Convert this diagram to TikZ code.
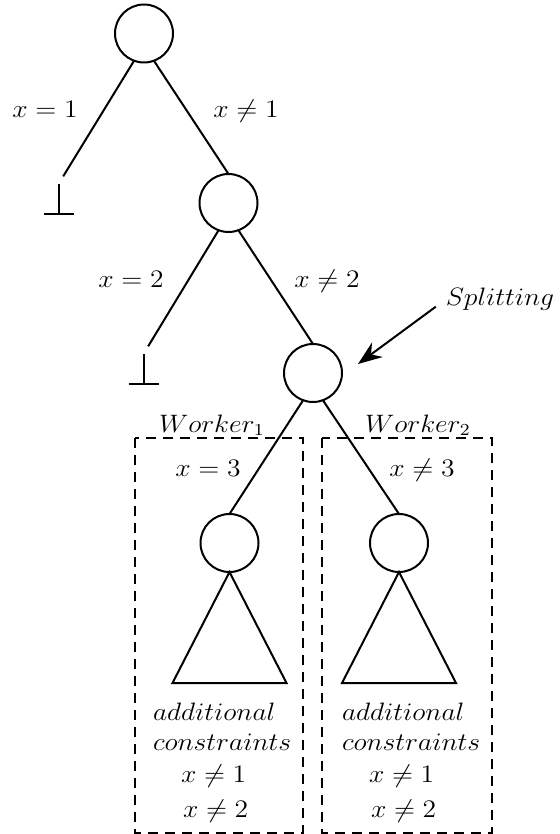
\documentclass[tikz,border=0pt]{standalone}
\usetikzlibrary{arrows.meta,calc}
\newcommand{\tx}[1]{\scalebox{1.15}[1.05]{$#1$}}
\begin{document}
\begin{tikzpicture}[x=0.5pt,y=-0.5pt,line width=1pt,
  font=\fontsize{12}{14.4}\selectfont,
  vert/.style={circle,draw,minimum size=29pt,inner sep=0pt,outer sep=0pt},
  botnode/.style={minimum width=15pt,minimum height=15pt,inner sep=0pt,outer sep=0pt},
  lbl/.style={anchor=base,inner sep=0pt},
  lblw/.style={anchor=base west,inner sep=0pt},
  box/.style={draw,dash pattern=on 5pt off 3.5pt},
  arr/.style={-{Stealth[length=12pt,width=9pt]}}]
\useasboundingbox (0,0) rectangle (560,834);
% vertices
\node[vert] (c1) at (144,33.5) {};
\node[vert] (c2) at (228.5,203) {};
\node[vert] (c3) at (313,373) {};
\node[vert] (c4) at (229.5,543) {};
\node[vert] (c5) at (399,543) {};
% bottom symbols
\node[botnode] (b1) at (58.5,199) {};
\node[botnode] (b2) at (143.5,369) {};
\foreach \b in {b1,b2}{
  \draw (\b.north) -- (\b.south);
  \draw (\b.south west) -- (\b.south east);
}
% edges
\draw[shorten >=4.5pt] (c1.250) -- (b1.north);
\draw (c1.290) -- (c2.north);
\draw[shorten >=4.5pt] (c2.250) -- (b2.north);
\draw (c2.290) -- (c3.north);
\draw (c3.250) -- (c4.north);
\draw (c3.290) -- (c5.north);
% subtrees
\draw (c4.south) -- ++(-57,111) -- ++(114,0) -- cycle;
\draw (c5.south) -- ++(-57,111) -- ++(114,0) -- cycle;
% worker boxes
\draw[box] (135,438) rectangle (303,833);
\draw[box] (322,438) rectangle (492,833);
% labels
\node[lbl] (l1) at (45,118) {\tx{x=1}};
\node[lbl] (l2) at (246,118) {\tx{x\neq1}};
\node[lbl] (l3) at (131,287) {\tx{x=2}};
\node[lbl] (l4) at (327,287) {\tx{x\neq2}};
\node[lbl] (l5) at (208,476) {\tx{x=3}};
\node[lbl] (l6) at (422,476) {\tx{x\neq3}};
\node[lbl] (w1) at (212,432) {\tx{Worker_1}};
\node[lbl] (w2) at (418,432) {\tx{Worker_2}};
\node[lbl] (split) at (500,305) {\tx{Splitting}};
\draw[arr] ($(split.west)+(-9,8)$) -- ($(c3.east)+(16,-9)$);
% constraints
\node[lblw] (a1) at (152,720) {\tx{additional}};
\node[lblw] (a2) at (152,750) {\tx{constraints}};
\node[lblw] (a3) at (180,782) {\tx{x\neq1}};
\node[lblw] (a4) at (182,817) {\tx{x\neq2}};
\node[lblw] (d1) at (341,720) {\tx{additional}};
\node[lblw] (d2) at (341,750) {\tx{constraints}};
\node[lblw] (d3) at (368,782) {\tx{x\neq1}};
\node[lblw] (d4) at (370,817) {\tx{x\neq2}};
\end{tikzpicture}
\end{document}
